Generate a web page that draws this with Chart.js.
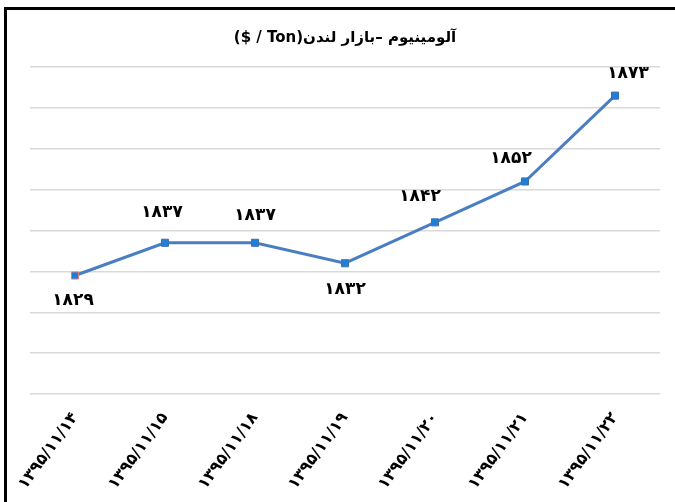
<!DOCTYPE html>
<html lang="fa">
<head>
  <meta charset="UTF-8">
  <title>Aluminium LME</title>
  <script src="https://cdn.jsdelivr.net/npm/chart.js"></script>
  <style>
    html, body { margin: 0; padding: 0; background: #fff; overflow: hidden; }
    #wrap { position: relative; width: 675px; height: 502px; }
    #frame {
      position: absolute; left: 4px; top: 7px; width: 700px; height: 520px;
      border-left: 3px solid #000; border-top: 3px solid #000; pointer-events: none;
    }
  </style>
</head>
<body>
  <div id="wrap">
    <canvas id="chart" width="675" height="502"></canvas>
    <div id="frame"></div>
  </div>

  <script>
    // dates (Persian calendar) and LME aluminium price, $/ton
    const dates = ['۱۳۹۵/۱۱/۱۴', '۱۳۹۵/۱۱/۱۵', '۱۳۹۵/۱۱/۱۸', '۱۳۹۵/۱۱/۱۹', '۱۳۹۵/۱۱/۲۰', '۱۳۹۵/۱۱/۲۱', '۱۳۹۵/۱۱/۲۲'];
    const prices = [1829, 1837, 1837, 1832, 1842, 1852, 1873];
    const priceLabels = ['۱۸۲۹', '۱۸۳۷', '۱۸۳۷', '۱۸۳۲', '۱۸۴۲', '۱۸۵۲', '۱۸۷۳'];
    const chartTitle = '($ / Ton)آلومینیوم –بازار لندن';

    const FONT = '"DejaVu Sans", sans-serif';

    // where each value label sits relative to its point
    const labelSpots = [
      { dx: -2, dy: 25 }, { dx: -3, dy: -30 }, { dx: 0, dy: -27 }, { dx: 0, dy: 26 },
      { dx: -15, dy: -26 }, { dx: -14, dy: -23 }, { dx: 13, dy: -22 }
    ];

    const valueLabels = {
      id: 'valueLabels',
      afterDatasetsDraw(chart) {
        const ctx = chart.ctx;
        const meta = chart.getDatasetMeta(0);
        ctx.save();
        ctx.font = 'bold 17px ' + FONT;
        ctx.fillStyle = '#000';
        ctx.textAlign = 'center';
        ctx.textBaseline = 'middle';
        meta.data.forEach((pt, i) => {
          const s = labelSpots[i];
          ctx.fillText(priceLabels[i], pt.x + s.dx, pt.y + s.dy);
        });
        ctx.restore();
      }
    };

    new Chart(document.getElementById('chart'), {
      type: 'line',
      data: {
        labels: dates,
        datasets: [{
          data: prices,
          borderColor: '#4A7EC2',
          borderWidth: 3,
          tension: 0,
          pointStyle: 'rect',
          pointRadius: 5,
          pointBackgroundColor: '#1E7FD8',
          pointBorderColor: ['#D98080', '#3D6FAF', '#3D6FAF', '#3D6FAF', '#3D6FAF', '#3D6FAF', '#3D6FAF'],
          pointBorderWidth: 1
        }]
      },
      options: {
        responsive: false,
        animation: false,
        layout: { padding: { left: 30, right: 15, top: 10, bottom: 2 } },
        plugins: {
          legend: { display: false },
          tooltip: { enabled: false },
          title: {
            display: true,
            text: chartTitle,
            color: '#000',
            font: { family: FONT, size: 15, weight: 'bold' },
            padding: { top: 19, bottom: 20 }
          }
        },
        scales: {
          x: {
            offset: true,
            grid: { display: false },
            border: { display: false },
            ticks: {
              autoSkip: false,
              minRotation: 54,
              maxRotation: 54,
              padding: 7,
              color: '#000',
              font: { family: FONT, size: 16, weight: 'bold' }
            }
          },
          y: {
            min: 1800,
            max: 1880,
            border: { display: false },
            grid: { color: '#D9D9D9', lineWidth: 1.5, drawTicks: false },
            ticks: { display: false, stepSize: 10 }
          }
        }
      },
      plugins: [valueLabels]
    });
  </script>
</body>
</html>
